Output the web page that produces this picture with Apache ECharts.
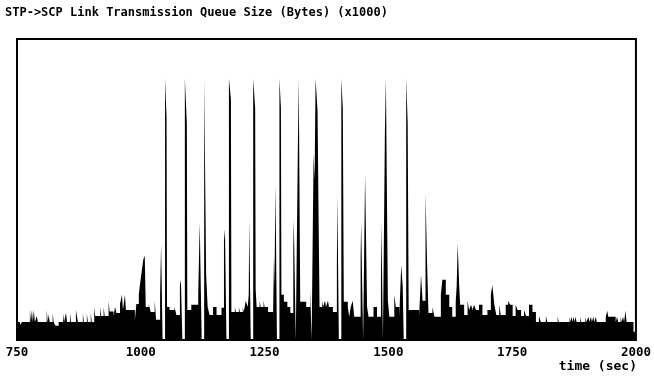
<!DOCTYPE html>
<html>
<head>
<meta charset="utf-8">
<script src="https://cdn.jsdelivr.net/npm/echarts@6/dist/echarts.min.js"></script>
<style>
html,body{margin:0;padding:0;background:#fff;}
#chart{width:654px;height:381px;}
</style>
</head>
<body>
<div id="chart"></div>
<script>
// queue size samples: time (sec) where a level starts, and the level (x1000 bytes)
var times = [750,756,760,776,778,780,782,784,786,790,792,810,812,814,816,822,824,828,834,843,845,849,851,857,859,869,873,883,885,891,893,899,901,906,908,918,920,925,927,935,937,945,948,951,958,962,964,968,970,988,991,996,
998,1001,1005,1008,1010,1016,1020,1028,1031,1039,1041,1044,1049,1052,1053,1058,1068,1072,1079,1081,1084,1089,1093,1094,1102,1116,1119,1123,1128,1132,1135,1139,1146,1153,1163,1168,1170,1173,1178,1182,1183,1190,1192,1198,1200,1206,1208,1212,1216,1218,1219,1222,1227,1231,1232,1234,1240,1242,1248,1250,1257,1267,1269,1270,1272,1275,1280,1283,1284,1289,1296,1302,1308,1309,1313,1317,1319,1322,1334,1342,1345,1349,1351,1353,1357,1359,1361,1366,1368,1372,1374,1378,1380,1388,1396,1397,1400,1405,1408,1410,1418,1421,1424,1428,1431,1444,1445,1449,1453,1457,1460,1470,1477,1485,1486,1489,1493,1495,1499,1502,1512,1515,1522,1526,1529,1531,1536,1539,1541,1562,1566,1569,1575,1578,1581,1589,1593,1606,1609,1616,1623,1629,1636,1638,1640,1643,1645,1653,1660,1663,1667,1670,1673,1677,1683,1690,1700,1707,1710,1714,1718,1724,1727,1737,1742,1746,1751,1757,1761,1768,1774,1778,1784,1791,1798,1804,1808,1818,1821,1842,1844,1866,1868,1870,1872,1874,1876,1878,1880,1887,1889,1898,1900,1904,1906,1909,1911,1914,1916,1919,1921,1939,1942,1944,1959,1962,1964,1969,1971,1974,1976,1979,1981,1995,2000];
var values = [6,5,6,10,6,10,6,10,6,8,6,10,6,8.5,6,9,6,4.7,6,9,6,9,6,9,6,10,6,9,6,9,6,9,6,11,8,11,8,11,8,13,9.5,8,11,9,12,15,10,15,10,6.5,12,15,
18,21.7,26.7,28,11,12,9.3,13,6.7,15,31.7,0,87,74,11,10,11,8.3,18,20,0,87,72,10,11.7,15,39,0,87,21.7,11,8.3,11,8.3,10.7,33,36.7,0,87,80,9.3,11,9.3,11,9.3,11,9.3,13,11,15,40,0,87,77,16.7,11,13,11,13,11,9.3,6.7,28,17.7,51.7,0,87,77,15,12.7,11,9,30.7,40,0,60.7,87,12.7,11,16.7,0,62,53,87,76,42,11,13,11,13,11,13,11,9.3,25,48,0,87,77,12.7,11,7.7,11,13,7.7,28,39,0,55,11,7.7,11,7.7,20,39,0,69,87,13,7.7,15,11,7.7,25,17.7,0,87,72,10,7.7,21.7,13,48.7,26.7,9,11,7.7,15,20,15,11,7.7,12.7,18,32,18,11.7,8.3,13,10,11.7,10,11.7,10,11.7,8.3,10,15,18.3,11.7,8.3,11.7,8.3,11.7,13,11.7,8,11.7,10,8,10,8,11.7,9.3,6,8,6,8,6,8,6,7.7,6,7.7,6,7.7,6,7.7,6,7.7,6,7.7,6,7.7,6,7.7,6,7.7,6,7.7,6,7.7,9.7,7.7,6,7.7,6,7.7,6,7.7,6,9.7,6,2.7,2.7];
var xTicks = [750,1000,1250,1500,1750,2000];

var font = 'DejaVu Sans Mono';
// each level holds until the next time: build the staircase corners
var seriesData = [];
for (var i = 0; i < times.length; i++) {
    if (i > 0) seriesData.push([times[i], values[i - 1]]);
    seriesData.push([times[i], values[i]]);
}

var myChart = echarts.init(document.getElementById('chart'));
var option = {
    animation: false,
    backgroundColor: '#fff',
    title: [
        {
            text: 'STP->SCP Link Transmission Queue Size (Bytes) (x1000)',
            left: 5,
            top: 7,
            padding: 0,
            textStyle: {fontFamily: font, fontWeight: 'bold', fontSize: 12, color: '#000'}
        },
        {
            text: 'time (sec)',
            right: 17,
            top: 360,
            padding: 0,
            textStyle: {fontFamily: font, fontWeight: 'bold', fontSize: 13, color: '#000'}
        }
    ],
    grid: {
        left: 17,
        right: 17,
        top: 39,
        bottom: 41,
        show: true,
        borderColor: '#000',
        borderWidth: 2,
        backgroundColor: '#fff'
    },
    xAxis: {
        type: 'value',
        min: xTicks[0],
        max: xTicks[xTicks.length - 1],
        interval: 250,
        axisLine: {show: false},
        axisTick: {show: false},
        splitLine: {show: false},
        axisLabel: {
            margin: 6,
            fontFamily: font,
            fontWeight: 'bold',
            fontSize: 12.5,
            color: '#000',
            formatter: function (v) { return String(v); }
        }
    },
    yAxis: {
        type: 'value',
        min: 0,
        max: 100,
        axisLine: {show: false},
        axisTick: {show: false},
        splitLine: {show: false},
        axisLabel: {show: false}
    },
    series: [
        {
            type: 'line',
            data: seriesData,
            symbol: 'none',
            sampling: 'none',
            lineStyle: {width: 0, opacity: 0},
            areaStyle: {color: '#000', opacity: 1}
        }
    ]
};
myChart.setOption(option);
</script>
</body>
</html>
